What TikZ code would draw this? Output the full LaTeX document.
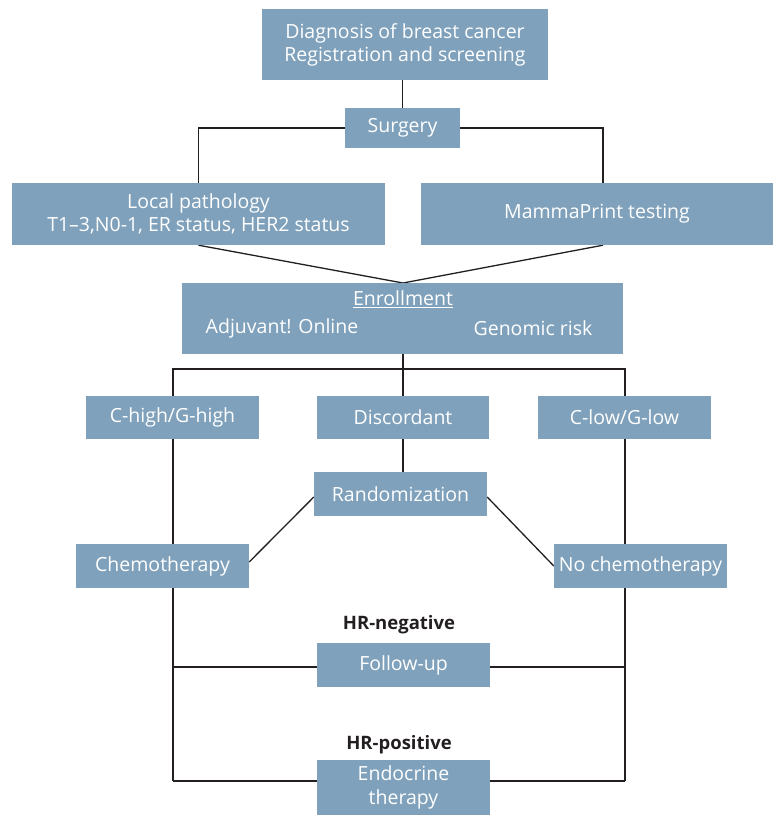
\documentclass[tikz,border=0pt]{standalone}
\usepackage{fontspec}
\setmainfont{Open Sans}
\usetikzlibrary{backgrounds}
\definecolor{boxc}{HTML}{7FA1BB}
\definecolor{linec}{HTML}{231F20}
\begin{document}
\begin{tikzpicture}[x=1pt,y=-1pt,
  box/.style={fill=boxc, text=white, inner sep=0pt, anchor=center, align=center,
    font=\fontsize{19.5}{23}\selectfont},
  ln/.style={draw=linec, line width=1.3pt},
  hr/.style={text=linec, font=\fontsize{18.5}{22}\selectfont\bfseries, inner sep=0pt}]
\useasboundingbox (0,0) rectangle (773,815);
\node[box, minimum width=286pt, minimum height=71pt] (top) at (405,44.5) {Diagnosis of breast cancer\\Registration and screening};
\node[box, minimum width=115pt, minimum height=40pt] (surg) at (402.5,128) {Surgery};
\node[box, minimum width=373pt, minimum height=62pt] (local) at (198.5,214) {Local pathology\\T1--3,N0-1, ER status, HER2 status};
\node[box, minimum width=352pt, minimum height=62pt] (mamma) at (597,214) {MammaPrint testing};
\node[box, minimum width=441pt, minimum height=71pt] (enroll) at (402.5,318.5) {};
\node[box, fill=none] (enrt) at (403,299) {\underline{Enrollment}};
\node[box, fill=none] (adj) at (282,328) {Adjuvant! Online};
\node[box, fill=none] (gen) at (533,328) {Genomic risk};
\node[box, minimum width=173pt, minimum height=43pt] (chigh) at (172.5,417.5) {C-high/G-high};
\node[box, minimum width=172pt, minimum height=43pt] (disc) at (403,417.5) {Discordant};
\node[box, minimum width=173pt, minimum height=43pt] (clow) at (624.5,417.5) {C-low/G-low};
\node[box, minimum width=173pt, minimum height=44pt] (rand) at (400.5,494) {Randomization};
\node[box, minimum width=173pt, minimum height=44pt] (chemo) at (162.5,566) {Chemotherapy};
\node[box, minimum width=173pt, minimum height=44pt] (nochemo) at (640.5,566) {No chemotherapy};
\node[hr] (hrneg) at (399,625) {HR-negative};
\node[box, minimum width=173pt, minimum height=44pt] (follow) at (403.5,665) {Follow-up};
\node[hr] (hrpos) at (399,745) {HR-positive};
\node[box, minimum width=173pt, minimum height=55pt, font=\fontsize{19.5}{24}\selectfont] (endo) at (403.5,787.5) {Endocrine\\therapy};
\coordinate (lt) at (173,369);
\coordinate (rt) at (625,369);
\coordinate (lf) at (173,667);
\coordinate (rf) at (625,667);
\coordinate (lb) at (173,781);
\coordinate (rb) at (625,781);
\coordinate (mj) at (403,283);
\begin{scope}[on background layer]
\draw[ln] (top.south -| surg) -- (surg.north);
\draw[ln] (surg.west) -| (local.north);
\draw[ln] (surg.east) -| ([xshift=6pt]mamma.north);
\draw[ln] (local.south) -- (mj) -- ([xshift=6pt]mamma.south);
\draw[ln] (enroll.south -| disc) -- (disc.north);
\draw[ln] (lb) -- (lt) -- (rt) -- (rb);
\draw[ln] (disc.south) -- (disc.south |- rand.north);
\draw[ln] ([yshift=-3pt]rand.west) -- ([yshift=4pt]chemo.east);
\draw[ln] ([yshift=-3pt]rand.east) -- (nochemo.west);
\draw[ln] (lf) -- (lf -| follow.west);
\draw[ln] (rf) -- (rf -| follow.east);
\draw[ln] (lb) -- (lb -| endo.west);
\draw[ln] (rb) -- (rb -| endo.east);
\end{scope}
\end{tikzpicture}
\end{document}
